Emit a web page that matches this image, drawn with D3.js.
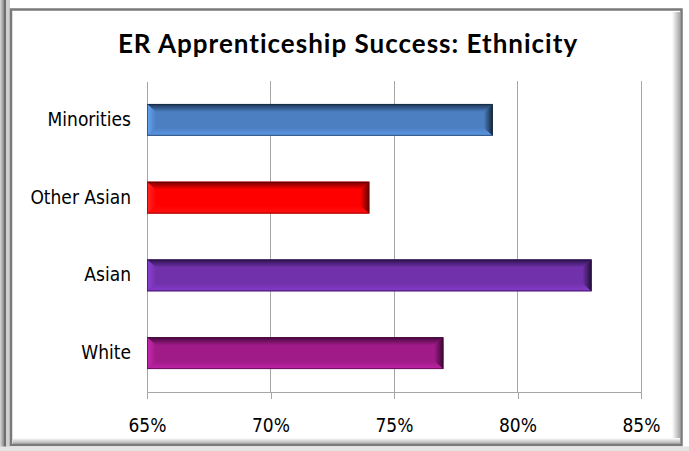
<!DOCTYPE html>
<html>
<head>
<meta charset="utf-8">
<script src="https://cdn.jsdelivr.net/npm/d3@7"></script>
<style>
  html, body { margin: 0; padding: 0; background: #ffffff; }
  svg { display: block; }
</style>
</head>
<body>
<script>
// Success rate (%) by ethnic group, top to bottom
const categories = ["Minorities", "Other Asian", "Asian", "White"];
const successRates = [79, 74, 83, 77];
const xTicks = [65, 70, 75, 80, 85];
const xDomain = [65, 85];

// Bevel shading per bar: dark top edge, face, light bottom edge, light left end, dark right end
const barPalettes = [
  { top: "#1a3250", face: "#4b7fc2", bottom: "#5c98e6", left: "#66a5f4", right: "#142438" },
  { top: "#700000", face: "#ff0000", bottom: "#ff1010", left: "#ff2a2a", right: "#620000" },
  { top: "#2a124c", face: "#7131aa", bottom: "#8739cc", left: "#8c42d8", right: "#220e38" },
  { top: "#44083a", face: "#a01a88", bottom: "#be22a6", left: "#c82ab4", right: "#380730" }
];

const W = 689, H = 451;
const plot = { left: 147, right: 641, top: 81, bottom: 392 };

const svg = d3.select("body").append("svg")
  .attr("width", W).attr("height", H);
const defs = svg.append("defs");

// ---- frame ----
const frameShade = defs.append("linearGradient").attr("id", "leftShade")
  .attr("x1", 0).attr("x2", 1).attr("y1", 0).attr("y2", 0);
frameShade.append("stop").attr("offset", 0).attr("stop-color", "#d8d8d8");
frameShade.append("stop").attr("offset", 1).attr("stop-color", "#8a8a8a");
svg.append("rect").attr("x", 0).attr("y", 0).attr("width", 4).attr("height", H).attr("fill", "url(#leftShade)");
svg.append("rect").attr("x", 4).attr("y", 0).attr("width", 2).attr("height", H).attr("fill", "#6e6e6e");
svg.append("rect").attr("x", 6).attr("y", 0).attr("width", 4).attr("height", H).attr("fill", "#d0d0d0");

const rShade = defs.append("linearGradient").attr("id", "rightShade")
  .attr("x1", 0).attr("x2", 1).attr("y1", 0).attr("y2", 0);
rShade.append("stop").attr("offset", 0).attr("stop-color", "#ffffff");
rShade.append("stop").attr("offset", 1).attr("stop-color", "#a8a8a8");
const bShade = defs.append("linearGradient").attr("id", "bottomShade")
  .attr("x1", 0).attr("x2", 0).attr("y1", 0).attr("y2", 1);
bShade.append("stop").attr("offset", 0).attr("stop-color", "#ffffff");
bShade.append("stop").attr("offset", 1).attr("stop-color", "#a8a8a8");

svg.append("rect").attr("x", 672).attr("y", 12).attr("width", 8).attr("height", 432).attr("fill", "url(#rightShade)");
svg.append("rect").attr("x", 13).attr("y", 438).attr("width", 667).attr("height", 6).attr("fill", "url(#bottomShade)");
svg.append("rect").attr("x", 11).attr("y", 9.5).attr("width", 670.5).attr("height", 435.5)
  .attr("fill", "none").attr("stroke", "#7a7a7a").attr("stroke-width", 2.5);
svg.append("rect").attr("x", 0).attr("y", 446.5).attr("width", W).attr("height", 5).attr("fill", "#e4e4e4");

// ---- title ----
svg.append("text")
  .attr("x", 348).attr("y", 53)
  .attr("text-anchor", "middle")
  .attr("font-family", "Lato, 'Open Sans', sans-serif")
  .attr("font-weight", "bold")
  .attr("font-size", 26)
  .attr("letter-spacing", "1px")
  .attr("fill", "#000")
  .text("ER Apprenticeship Success: Ethnicity");

// ---- scales ----
const x = d3.scaleLinear().domain(xDomain).range([plot.left, plot.right]);
const y = d3.scaleBand().domain(categories).range([plot.top, plot.bottom]).paddingInner(0.59).paddingOuter(0.295);

const labelFont = "'DejaVu Sans Condensed', 'DejaVu Sans', sans-serif";

// gridlines
svg.append("g").selectAll("line")
  .data(xTicks.slice(1))
  .join("line")
  .attr("x1", d => x(d)).attr("x2", d => x(d))
  .attr("y1", plot.top).attr("y2", plot.bottom)
  .attr("stroke", "#a6a6a6").attr("stroke-width", 1)
  .attr("shape-rendering", "crispEdges");

// x axis
const xAxis = d3.axisBottom(x).tickValues(xTicks).tickFormat(d => d + "%").tickSize(7).tickSizeOuter(0).tickPadding(20);
const gx = svg.append("g").attr("transform", `translate(0,${plot.bottom})`).call(xAxis);
gx.select(".domain").attr("stroke", "#a6a6a6").attr("shape-rendering", "crispEdges");
gx.selectAll(".tick line").attr("stroke", "#a6a6a6").attr("shape-rendering", "crispEdges");
gx.selectAll(".tick text")
  .attr("font-family", labelFont).style("font-stretch", "condensed")
  .attr("font-size", 19).attr("fill", "#000");

// y axis
const yAxis = d3.axisLeft(y).tickSize(0).tickPadding(16);
const gy = svg.append("g").attr("transform", `translate(${plot.left},0)`).call(yAxis);
gy.select(".domain").attr("stroke", "#a6a6a6").attr("shape-rendering", "crispEdges");
gy.selectAll(".tick text")
  .attr("font-family", labelFont).style("font-stretch", "condensed")
  .attr("font-size", 19).attr("fill", "#000");

// ---- bevelled bars ----
function grad(id, dir, c0, c1) {
  const g = defs.append("linearGradient").attr("id", id)
    .attr("x1", 0).attr("y1", 0)
    .attr("x2", dir === "h" ? 1 : 0).attr("y2", dir === "h" ? 0 : 1);
  g.append("stop").attr("offset", 0).attr("stop-color", c0);
  g.append("stop").attr("offset", 1).attr("stop-color", c1);
  return `url(#${id})`;
}

const bars = svg.append("g");
categories.forEach((cat, i) => {
  const p = barPalettes[i];
  const x0 = x(xDomain[0]), x1 = x(successRates[i]);
  const y0 = y(cat), y1 = y0 + y.bandwidth();
  const bv = 8, bh = 9;
  const g = bars.append("g");
  const poly = pts => pts.map(q => q.join(",")).join(" ");

  g.append("rect").attr("x", x0).attr("y", y0).attr("width", x1 - x0).attr("height", y1 - y0)
    .attr("fill", p.face);
  // top edge
  g.append("polygon")
    .attr("points", poly([[x0, y0], [x1, y0], [x1 - bh, y0 + bv], [x0 + bh, y0 + bv]]))
    .attr("fill", grad(`top${i}`, "v", p.top, p.face));
  // bottom edge
  g.append("polygon")
    .attr("points", poly([[x0, y1], [x1, y1], [x1 - bh, y1 - bv], [x0 + bh, y1 - bv]]))
    .attr("fill", grad(`bot${i}`, "v", p.face, p.bottom));
  // left end
  g.append("polygon")
    .attr("points", poly([[x0, y0], [x0 + bh, y0 + bv], [x0 + bh, y1 - bv], [x0, y1]]))
    .attr("fill", grad(`lft${i}`, "h", p.left, p.face));
  // right end
  g.append("polygon")
    .attr("points", poly([[x1, y0], [x1 - bh, y0 + bv], [x1 - bh, y1 - bv], [x1, y1]]))
    .attr("fill", grad(`rgt${i}`, "h", p.face, p.right));
  g.append("rect").attr("x", x0 + 0.5).attr("y", y0 + 0.5).attr("width", x1 - x0 - 1).attr("height", y1 - y0 - 1)
    .attr("fill", "none").attr("stroke", p.right).attr("stroke-opacity", 0.6).attr("stroke-width", 1);
});
</script>
</body>
</html>
